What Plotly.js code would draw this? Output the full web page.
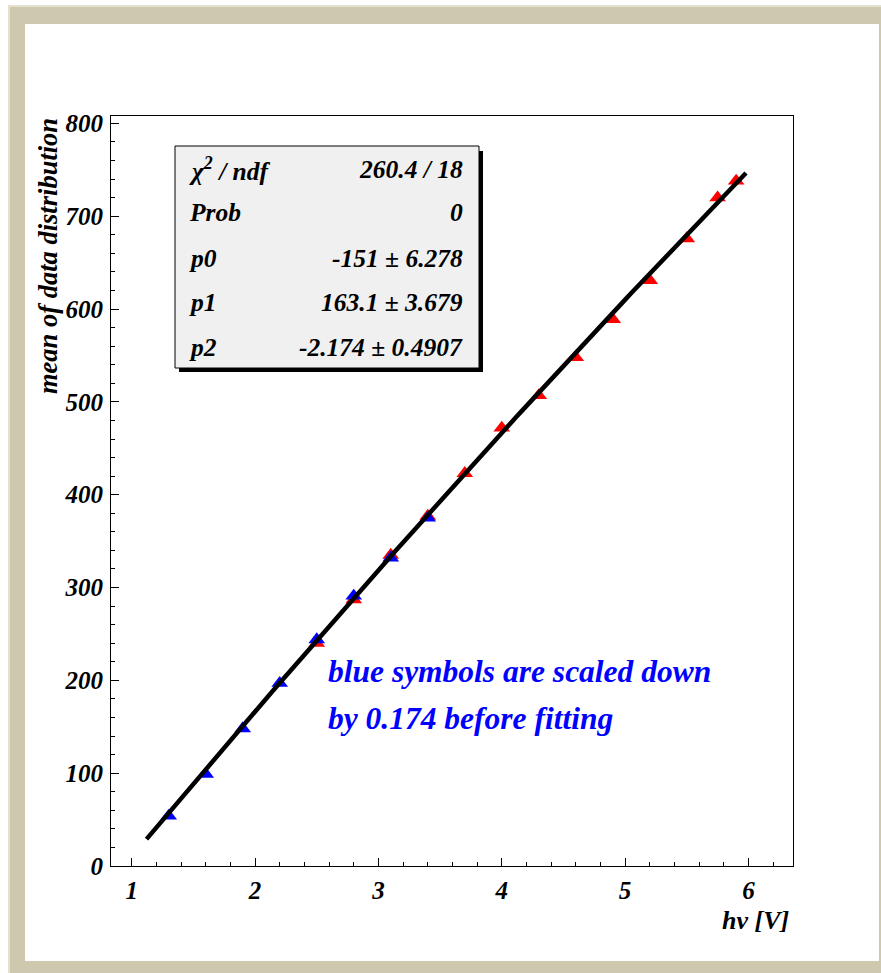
<!DOCTYPE html>
<html>
<head>
<meta charset="utf-8">
<script src="https://cdn.plot.ly/plotly-3.0.1.min.js"></script>
<style>
  html, body { margin: 0; padding: 0; background: #ffffff; }
  #chart { width: 881px; height: 973px; }
</style>
</head>
<body>
<div id="chart"></div>
<script>
// Measured mean of the data distribution versus high voltage
const hvRed   = [2.5, 2.8, 3.1, 3.4, 3.7, 4.0, 4.3, 4.6, 4.9, 5.2, 5.5, 5.75, 5.9];
const meanRed = [240, 287, 335, 377, 423, 472, 507, 548, 589, 631, 676, 720, 738];

// Blue points (already scaled by 0.174)
const hvBlue   = [1.3, 1.6, 1.9, 2.2, 2.5, 2.8, 3.1, 3.4];
const meanBlue = [54, 99, 148, 197, 244, 291, 332, 375];

// pol2 fit result: p0 + p1*x + p2*x^2
const fitParams = [-151, 163.1, -2.174];
const fitRange  = [1.12, 5.98];

// Fit statistics box rows
const statNames  = ['χ<sup>2</sup> / ndf', 'Prob', 'p0', 'p1', 'p2'];
const statValues = ['260.4 / 18', '0', '-151 ± 6.278', '163.1 ± 3.679', '-2.174 ± 0.4907'];

const noteLines = ['blue symbols are scaled down', 'by 0.174 before fitting'];

// ---- layout geometry (pixels) ----
const W = 881, H = 973;
const M = { l: 111, r: 88, t: 116, b: 107 };
const plotW = W - M.l - M.r, plotH = H - M.t - M.b;
const px = x => (x - M.l) / plotW;          // pixel x -> paper
const py = y => (H - M.b - y) / plotH;      // pixel y -> paper

const FONT = 'Liberation Serif';
const bi = (size, color) => ({ family: FONT, size: size, color: color || '#000', weight: 'bold', style: 'italic' });

// fit curve sampled across its range
const nFit = 120;
const fitX = [], fitY = [];
for (let i = 0; i <= nFit; i++) {
  const x = fitRange[0] + (fitRange[1] - fitRange[0]) * i / nFit;
  fitX.push(x);
  fitY.push(fitParams[0] + fitParams[1] * x + fitParams[2] * x * x);
}

const traces = [
  {
    x: hvRed, y: meanRed, type: 'scatter', mode: 'markers',
    marker: { symbol: 'triangle-up', size: 14.5, color: '#ff0000' },
    hoverinfo: 'x+y'
  },
  {
    x: hvBlue, y: meanBlue, type: 'scatter', mode: 'markers',
    marker: { symbol: 'triangle-up', size: 14.5, color: '#0000ff' },
    hoverinfo: 'x+y'
  },
  {
    x: fitX, y: fitY, type: 'scatter', mode: 'lines',
    line: { color: '#000000', width: 4.5 },
    hoverinfo: 'skip'
  }
];

const shapes = [
  // canvas frame
  { type: 'rect', xref: 'paper', yref: 'paper', layer: 'below',
    x0: px(8), x1: px(W), y0: py(H), y1: py(5),
    fillcolor: '#cdc8ae', line: { width: 0 } },
  { type: 'rect', xref: 'paper', yref: 'paper', layer: 'below',
    x0: px(8), x1: px(W), y0: py(7), y1: py(5),
    fillcolor: '#e4e1d0', line: { width: 0 } },
  { type: 'rect', xref: 'paper', yref: 'paper', layer: 'below',
    x0: px(8), x1: px(10), y0: py(H), y1: py(5),
    fillcolor: '#e4e1d0', line: { width: 0 } },
  { type: 'rect', xref: 'paper', yref: 'paper', layer: 'below',
    x0: px(25), x1: px(879), y0: py(961), y1: py(24),
    fillcolor: '#ffffff', line: { width: 0 } },
  // stats box shadow and body
  { type: 'rect', xref: 'paper', yref: 'paper', layer: 'above',
    x0: px(179), x1: px(483), y0: py(372), y1: py(151),
    fillcolor: '#000000', line: { width: 0 } },
  { type: 'rect', xref: 'paper', yref: 'paper', layer: 'above',
    x0: px(175), x1: px(479), y0: py(368), y1: py(146),
    fillcolor: '#f0f0f0', line: { color: '#000000', width: 1 } }
];

const rowY = [170, 213, 258, 302, 347];
const annotations = [];
statNames.forEach((name, i) => {
  annotations.push({ xref: 'paper', yref: 'paper', x: px(187), y: py(rowY[i]),
    xanchor: 'left', yanchor: 'middle', text: name, showarrow: false, font: bi(25.5) });
  annotations.push({ xref: 'paper', yref: 'paper', x: px(465), y: py(rowY[i]),
    xanchor: 'right', yanchor: 'middle', text: statValues[i], showarrow: false, font: bi(25.5) });
});
annotations.push({ xref: 'paper', yref: 'paper', x: px(326), y: py(671),
  xanchor: 'left', yanchor: 'middle', text: noteLines[0], showarrow: false, font: bi(31.5, '#0000ff') });
annotations.push({ xref: 'paper', yref: 'paper', x: px(326), y: py(718),
  xanchor: 'left', yanchor: 'middle', text: noteLines[1], showarrow: false, font: bi(31.5, '#0000ff') });
// axis titles
annotations.push({ xref: 'paper', yref: 'paper', x: px(791), y: py(921),
  xanchor: 'right', yanchor: 'middle', text: 'hv [V]', showarrow: false, font: bi(26) });
annotations.push({ xref: 'paper', yref: 'paper', x: px(48), y: py(116),
  xanchor: 'center', yanchor: 'top', textangle: -90, text: 'mean of data distribution',
  showarrow: false, font: bi(26.5) });

const axisCommon = {
  showgrid: false, zeroline: false,
  showline: true, linecolor: '#000', linewidth: 1, mirror: true,
  ticks: 'inside', ticklen: 8, tickwidth: 1, tickcolor: '#000',
  tickfont: bi(25)
};

const layout = {
  width: W, height: H,
  margin: M,
  showlegend: false,
  paper_bgcolor: '#ffffff',
  plot_bgcolor: 'rgba(0,0,0,0)',
  xaxis: Object.assign({}, axisCommon, {
    range: [0.832, 6.361], tick0: 0, dtick: 1,
    ticklabelstandoff: 2,
    minor: { ticks: 'inside', ticklen: 4, dtick: 0.2, tick0: 0, tickcolor: '#000', showgrid: false }
  }),
  yaxis: Object.assign({}, axisCommon, {
    range: [0, 808], tick0: 0, dtick: 100,
    ticklabelstandoff: 2,
    minor: { ticks: 'inside', ticklen: 4, dtick: 20, tick0: 0, tickcolor: '#000', showgrid: false }
  }),
  shapes: shapes,
  annotations: annotations
};

Plotly.newPlot('chart', traces, layout, { displayModeBar: false, staticPlot: true });
</script>
</body>
</html>
